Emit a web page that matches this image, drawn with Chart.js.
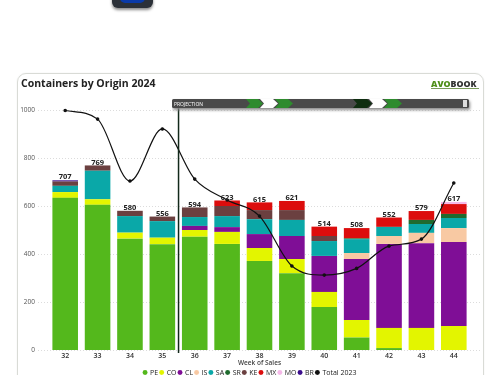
<!DOCTYPE html>
<html lang="en">
<head>
    <meta charset="UTF-8">
    <title>Containers by Origin 2024</title>
    <script src="https://cdn.jsdelivr.net/npm/chart.js"></script>
    <style>
        html, body { margin: 0; width: 500px; height: 375px; overflow: hidden; background: #fff; font-family: "Open Sans", sans-serif; }
        #card { position: absolute; left: 17px; top: 73px; width: 465px; height: 340px; border: 1px solid #d9dbd6; border-radius: 9px; box-shadow: 0 0 2px #eee; }
        #wrap { position: absolute; left: 0; top: 0; width: 500px; height: 386px; }
        #title { position: absolute; left: 21px; top: 76px; font-size: 10.5px; font-weight: 700; color: #222; white-space: nowrap; }
        #icon { position: absolute; left: 112px; top: -12px; width: 41px; height: 20px; border-radius: 6px; background: #2b3038; box-shadow: 0 2px 3px #888; }
        #icon div { position: absolute; left: 8px; top: 0; width: 25px; height: 15px; border-radius: 5px; background: #0a3aa8; }
        #logo { position: absolute; left: 431px; top: 78px; font-size: 8.8px; font-weight: 800; white-space: nowrap; color: #333; line-height: 12px; }
        #logo span { color: #4f8f1a; }
        #tag { position: absolute; left: 431px; top: 88px; width: 48px; height: 1px; background: #7a9a5a; }
        #bar { position: absolute; left: 172px; top: 96px; }
    </style>
</head>
<body>
    <div id="icon"><div></div></div>
    <div id="card"></div>
    <div id="wrap"><canvas id="originChart" width="500" height="386"></canvas></div>
    <div id="title">Containers by Origin 2024</div>
    <div id="logo"><span>AVO</span>BOOK</div>
    <div id="tag"></div>
    <svg id="bar" width="306" height="20">
        <defs>
            <filter id="sh" x="-5%" y="-50%" width="110%" height="250%"><feDropShadow dx="1" dy="2" stdDeviation="1.5" flood-color="#888"/></filter>
        </defs>
        <rect x="0" y="3" width="297" height="9" rx="1.5" fill="#4a4a4a" filter="url(#sh)"/>
        <polygon points="74,3 86,3 91,7.5 86,12 74,12 78,7.5" fill="#2e8b2e"/>
        <polygon points="88,3 101,3 106,7.5 101,12 88,12 92,7.5" fill="#fff"/>
        <polygon points="103,3 116,3 121,7.5 116,12 103,12 107,7.5" fill="#2e8b2e"/>
        <polygon points="181,3 195,3 200,7.5 195,12 181,12 185,7.5" fill="#0f2e10"/>
        <polygon points="197,3 210,3 215,7.5 210,12 197,12 201,7.5" fill="#fff"/>
        <polygon points="212,3 225,3 230,7.5 225,12 212,12 216,7.5" fill="#2e8b2e"/>
        <rect x="291" y="4" width="4" height="7" fill="#ddd"/>
        <text x="2" y="10" font-size="5" fill="#fff" font-family="Open Sans">PROJECTION</text>
    </svg>
    <script>
        const weeks = ['32', '33', '34', '35', '36', '37', '38', '39', '40', '41', '42', '43', '44'];
        const totals = [707, 769, 580, 556, 594, 623, 615, 621, 514, 508, 552, 579, 617];
        const yTicks = [0, 200, 400, 600, 800, 1000];

        const pe = [634, 605, 464, 441, 472, 442, 371, 320, 179, 52, 8, 0, 0];
        const co = [24, 23, 25, 27, 28, 50, 54, 59, 63, 73, 84, 92, 100];
        const cl = [0, 0, 0, 0, 17, 20, 58, 96, 150, 254, 350, 353, 350];
        const is = [0, 0, 0, 0, 0, 0, 0, 0, 0, 25, 33, 43, 58];
        const sa = [26, 119, 69, 69, 37, 46, 62, 67, 62, 58, 38, 37, 42];
        const sr = [0, 0, 0, 0, 0, 0, 0, 0, 0, 3, 0, 17, 17];
        const ke = [18, 22, 22, 19, 40, 42, 38, 41, 21, 0, 0, 0, 0];
        const mx = [0, 0, 0, 0, 0, 23, 32, 38, 39, 43, 39, 37, 41];
        const mo = [0, 0, 0, 0, 0, 0, 0, 0, 0, 0, 0, 0, 9];
        const br = [5, 0, 0, 0, 0, 0, 0, 0, 0, 0, 0, 0, 0];
        const total2023 = [998, 962, 704, 921, 712, 625, 558, 350, 312, 340, 433, 462, 696];

        const bar = (label, data, color) => ({
            type: 'bar', label: label, data: data, backgroundColor: color,
            borderWidth: 0, stack: 's', categoryPercentage: 1, barPercentage: 0.79, order: 2
        });

        // grid lines, projection marker and the totals above the bars
        const extras = {
            id: 'extras',
            beforeDatasetsDraw(chart) {
                const c = chart.ctx, y = chart.scales.y;
                c.save();
                c.strokeStyle = '#dcdcdc';
                c.lineWidth = 1;
                c.setLineDash([1, 2]);
                yTicks.forEach(t => {
                    const py = Math.round(y.getPixelForValue(t)) + 0.5;
                    c.beginPath();
                    c.moveTo(38, py);
                    c.lineTo(480, py);
                    c.stroke();
                });
                c.restore();
            },
            afterDatasetsDraw(chart) {
                const c = chart.ctx, x = chart.scales.x, y = chart.scales.y;
                c.save();
                c.font = '700 7.5px "Open Sans"';
                c.fillStyle = '#222';
                c.textAlign = 'center';
                totals.forEach((t, i) => c.fillText(t, x.getPixelForValue(i), y.getPixelForValue(t) - 3));
                const px = (x.getPixelForValue(3) + x.getPixelForValue(4)) / 2;
                c.strokeStyle = '#12291a';
                c.lineWidth = 1.5;
                c.beginPath();
                c.moveTo(px, 100);
                c.lineTo(px, y.bottom + 3);
                c.stroke();
                c.restore();
            }
        };

        new Chart(document.getElementById('originChart').getContext('2d'), {
            data: {
                labels: weeks,
                datasets: [
                    bar('PE', pe, '#54b81c'),
                    bar('CO', co, '#e3f500'),
                    bar('CL', cl, '#7f0e96'),
                    bar('IS', is, '#f8c9a3'),
                    bar('SA', sa, '#0aa8a8'),
                    bar('SR', sr, '#1f6b2e'),
                    bar('KE', ke, '#6b4040'),
                    bar('MX', mx, '#dc0d0d'),
                    bar('MO', mo, '#f5b8e8'),
                    bar('BR', br, '#3b0d8c'),
                    {
                        type: 'line', label: 'Total 2023', data: total2023, order: 1,
                        borderColor: '#111', backgroundColor: '#111', borderWidth: 1.2,
                        cubicInterpolationMode: 'monotone', pointRadius: 1.2, pointStyle: 'circle', clip: false
                    }
                ]
            },
            options: {
                responsive: false,
                animation: false,
                layout: { padding: { top: 110, right: 0, left: 0, bottom: 0 } },
                plugins: {
                    title: { display: false },
                    tooltip: { enabled: false },
                    legend: {
                        position: 'bottom',
                        labels: {
                            usePointStyle: true, pointStyle: 'circle', boxWidth: 3, boxHeight: 3.5, padding: 2,
                            color: '#222', font: { family: 'Open Sans', size: 7 },
                            filter: item => { item.lineWidth = 0; return true; },
                            sort: (a, b) => a.datasetIndex - b.datasetIndex
                        }
                    }
                },
                scales: {
                    x: {
                        stacked: true,
                        grid: { display: false, drawTicks: false },
                        border: { display: false },
                        ticks: { color: '#333', font: { family: 'Open Sans', size: 7, weight: '600' }, padding: 2, maxRotation: 0 },
                        title: { display: true, text: 'Week of Sales', color: '#444', font: { family: 'Open Sans', size: 6.5, weight: '600' }, padding: 0 },
                        afterFit(s) { s.height = 17; }
                    },
                    y: {
                        stacked: true,
                        min: 0, max: 1000,
                        afterBuildTicks(s) { s.ticks = yTicks.map(v => ({ value: v })); },
                        grid: { display: false, drawTicks: false },
                        border: { display: false },
                        ticks: { color: '#555', font: { family: 'Open Sans', size: 6.5 }, padding: 14, callback: v => String(v) },
                        afterFit(s) { s.width = 49; }
                    },
                    // empty axis keeps the plot clear of the right edge while the legend stays centred
                    pad: {
                        position: 'right',
                        grid: { display: false, drawTicks: false },
                        border: { display: false },
                        ticks: { display: false },
                        afterFit(s) { s.width = 30; }
                    }
                }
            },
            plugins: [extras]
        });
    </script>
</body>
</html>
